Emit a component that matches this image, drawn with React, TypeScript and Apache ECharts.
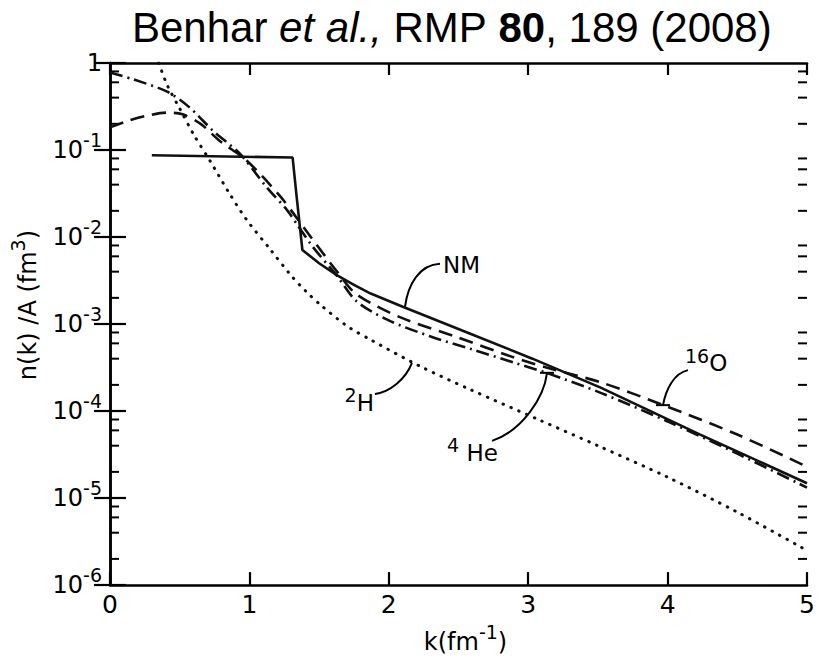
import React, { useEffect, useRef } from 'react';
import * as echarts from 'echarts';

// ---- data ----
// NM (nuclear matter), solid
const nmK = [0.30, 1.31, 1.34, 1.38, 1.50, 1.63, 1.75, 1.87, 2.10, 2.58, 3.03, 3.52, 4.23, 5.00];
const nmN = [0.087, 0.082, 0.028, 0.0071, 0.0050, 0.00363, 0.00282, 0.00224, 0.00158, 0.00078, 0.00040, 0.000186, 5.4e-5, 1.48e-5];
// 2H, dotted
const h2K = [0.35, 0.41, 0.50, 0.60, 0.72, 0.85, 0.98, 1.15, 1.30, 1.41, 1.51, 1.70, 1.87, 2.22, 2.58, 3.08, 3.50, 4.00, 4.50, 5.00];
const h2N = [1.0, 0.56, 0.30, 0.151, 0.074, 0.033, 0.0158, 0.0072, 0.0036, 0.00234, 0.00166, 0.00095, 0.00066, 0.00033, 0.000178, 7.9e-5, 4.0e-5, 1.74e-5, 6.9e-6, 2.5e-6];
// 4He, dash-dot
const he4K = [0.00, 0.17, 0.41, 0.57, 0.74, 0.93, 1.12, 1.27, 1.34, 1.45, 1.63, 1.77, 2.00, 2.30, 2.60, 2.90, 3.13, 3.52, 4.00, 4.50, 5.00];
const he4N = [0.776, 0.646, 0.468, 0.309, 0.166, 0.0912, 0.038, 0.0204, 0.0141, 0.0079, 0.00355, 0.00182, 0.0011, 0.00072, 0.00051, 0.00036, 0.000275, 0.000162, 7.6e-5, 3.24e-5, 1.32e-5];
// 16O, dashed
const o16K = [0.00, 0.12, 0.25, 0.41, 0.52, 0.65, 0.79, 0.98, 1.22, 1.33, 1.45, 1.63, 1.77, 2.08, 2.49, 2.89, 3.13, 3.52, 3.97, 4.50, 5.00];
const o16N = [0.182, 0.214, 0.245, 0.269, 0.257, 0.200, 0.126, 0.0759, 0.0295, 0.0174, 0.00955, 0.00398, 0.00219, 0.0012, 0.000708, 0.000417, 0.000316, 0.000214, 0.000117, 5.37e-5, 2.29e-5];

// axis ticks
const xTicks = [0, 1, 2, 3, 4, 5];
const yMinorMult = [2, 4, 6, 8];
const yMinorExp = [-6, -5, -4, -3, -2, -1];

// annotations: label text and anchor point on the curve (data coords)
const annoText = ['NM', '{sup|2}{b|H}', '{sup|4}{b| He}', '{sup|16}{b|O}'];
const annoK = [2.116, 2.166, 3.135, 3.967];
const annoN = [1.58e-3, 3.57e-4, 2.75e-4, 1.17e-4];

const TF = 'DejaVu Sans';

const annoLayout = [
  { end: [35, -43], c1: [3, -22], c2: [14, -42], t: [38, -42], align: 'left', bar: 0 },
  { end: [-37, 31], c1: [-6, 16], c2: [-22, 29], t: [-38, 40], align: 'right', bar: 0 },
  { end: [-55, 68], c1: [-3, 25], c2: [-25, 58], t: [-100, 80], align: 'left', bar: 7 },
  { end: [25, -35], c1: [3, -16], c2: [11, -32], t: [22, -42], align: 'left', bar: 7 },
];

const pairs = (k: number[], n: number[]) => k.map((v, i) => [v, n[i]]);

export default function App() {
  const ref = useRef<HTMLDivElement>(null);
  useEffect(() => {
    const chart = echarts.init(ref.current as HTMLDivElement, null, { renderer: 'svg' });
    const minorData: number[][] = [];
    yMinorExp.forEach((e) => yMinorMult.forEach((m) => minorData.push([0, m * Math.pow(10, e)])));

    const axisLineStyle = { color: '#000', width: 2.5 };
    const supRich = {
      b: { fontFamily: TF, fontSize: 24, lineHeight: 40, verticalAlign: 'middle', color: '#000' },
      sup: { fontFamily: TF, fontSize: 19, lineHeight: 18, verticalAlign: 'top', color: '#000' },
    };
    const annoRich = {
      b: { fontFamily: TF, fontSize: 23, lineHeight: 34, verticalAlign: 'middle', fill: '#000', color: '#000' },
      sup: { fontFamily: TF, fontSize: 19, lineHeight: 18, verticalAlign: 'top', fill: '#000', color: '#000' },
    };

    const option: any = {
      animation: false,
      backgroundColor: '#fff',
      title: {
        text: 'Benhar {i|et al.,} RMP {bd|80}, 189 (2008)',
        left: 127,
        top: 1,
        textStyle: {
          fontFamily: 'Liberation Sans',
          fontSize: 42,
          fontWeight: 'normal',
          color: '#000',
          rich: {
            i: { fontFamily: 'Liberation Sans', fontSize: 42, fontStyle: 'italic', color: '#000' },
            bd: { fontFamily: 'Liberation Sans', fontSize: 42, fontWeight: 'bold', color: '#000' },
          },
        },
      },
      grid: { left: 110, right: 11, top: 63, bottom: 67 },
      xAxis: [
        {
          type: 'value', min: 0, max: 5, interval: 1, position: 'bottom',
          axisLine: { lineStyle: axisLineStyle },
          axisTick: { inside: true, length: 13, lineStyle: { color: '#000', width: 2.2 } },
          axisLabel: {
            color: '#000', fontFamily: TF, fontSize: 25, margin: 7,
            formatter: (v: number) => (xTicks.includes(v) ? String(v) : ''),
          },
          splitLine: { show: false },
          name: '{b|k(fm}{sup|-1}{b|)}',
          nameLocation: 'middle',
          nameGap: 29,
          nameTextStyle: { rich: supRich, padding: [0, 0, 0, 14] },
        },
        {
          type: 'value', min: 0, max: 5, interval: 1, position: 'top',
          axisLine: { lineStyle: axisLineStyle },
          axisTick: { inside: true, length: 12, lineStyle: { color: '#000', width: 2.2 } },
          axisLabel: { show: false },
          splitLine: { show: false },
        },
      ],
      yAxis: [
        {
          type: 'log', logBase: 10, min: 1e-6, max: 1, position: 'left',
          axisLine: { lineStyle: axisLineStyle },
          axisTick: { inside: true, length: 16, lineStyle: { color: '#000', width: 2.2 } },
          axisLabel: {
            margin: 8,
            formatter: (v: number) => {
              const e = Math.round(Math.log10(v));
              return e === 0 ? '{b|1}' : `{b|10}{sup|${e}}`;
            },
            rich: supRich,
          },
          splitLine: { show: false },
          name: '{b|n(k) /A (fm}{sup|3}{b|)}',
          nameLocation: 'middle',
          nameGap: 62,
          nameTextStyle: { rich: supRich, padding: [0, 0, 0, 38] },
        },
        {
          type: 'log', logBase: 10, min: 1e-6, max: 1, position: 'right',
          axisLine: { lineStyle: axisLineStyle },
          axisTick: { inside: true, length: 16, lineStyle: { color: '#000', width: 2.2 } },
          axisLabel: { show: false },
          splitLine: { show: false },
        },
      ],
      series: [
        {
          name: 'NM', type: 'line', data: pairs(nmK, nmN), symbol: 'none',
          lineStyle: { color: '#111', width: 2.6, type: 'solid' },
        },
        {
          name: '2H', type: 'line', data: pairs(h2K, h2N), symbol: 'none', smooth: 0.3,
          lineStyle: { color: '#111', width: 3, type: [0.5, 8], cap: 'round' },
        },
        {
          name: '4He', type: 'line', data: pairs(he4K, he4N), symbol: 'none', smooth: 0.3,
          lineStyle: { color: '#111', width: 2.6, type: [13, 5, 2, 5] },
        },
        {
          name: '16O', type: 'line', data: pairs(o16K, o16N), symbol: 'none', smooth: 0.3,
          lineStyle: { color: '#111', width: 2.6, type: [14, 8] },
        },
        {
          name: 'minorTicks', type: 'custom', silent: true, data: minorData,
          renderItem: (params: any, api: any) => {
            const y = api.value(1);
            const l = api.coord([0, y]);
            const r = api.coord([5, y]);
            return {
              type: 'group',
              children: [
                { type: 'line', shape: { x1: l[0], y1: l[1], x2: l[0] + 9, y2: l[1] }, style: { stroke: '#000', lineWidth: 2 } },
                { type: 'line', shape: { x1: r[0] - 9, y1: r[1], x2: r[0], y2: r[1] }, style: { stroke: '#000', lineWidth: 2 } },
              ],
            };
          },
        },
        {
          name: 'annotations', type: 'custom', silent: true, data: pairs(annoK, annoN),
          renderItem: (params: any, api: any) => {
            const i = params.dataIndex;
            const a = annoLayout[i];
            const p = api.coord([api.value(0), api.value(1)]);
            const children: any[] = [
              {
                type: 'bezierCurve',
                shape: {
                  x1: p[0], y1: p[1],
                  cpx1: p[0] + a.c1[0], cpy1: p[1] + a.c1[1],
                  cpx2: p[0] + a.c2[0], cpy2: p[1] + a.c2[1],
                  x2: p[0] + a.end[0], y2: p[1] + a.end[1],
                },
                style: { stroke: '#000', lineWidth: 2, fill: 'none' },
              },
            ];
            if (a.bar) {
              children.push({
                type: 'line',
                shape: { x1: p[0] - a.bar, y1: p[1], x2: p[0] + a.bar, y2: p[1] },
                style: { stroke: '#000', lineWidth: 2 },
              });
            }
            children.push({
              type: 'text',
              x: p[0] + a.t[0],
              y: p[1] + a.t[1],
              style: {
                text: annoText[i],
                rich: annoRich,
                fontFamily: TF,
                fontSize: 23,
                fill: '#000',
                align: a.align,
                verticalAlign: 'middle',
              },
            });
            return { type: 'group', children };
          },
        },
      ],
    };
    chart.setOption(option);
    return () => chart.dispose();
  }, []);
  return <div ref={ref} style={{ position: 'absolute', left: 0, top: 0, width: 818, height: 659 }} />;
}
